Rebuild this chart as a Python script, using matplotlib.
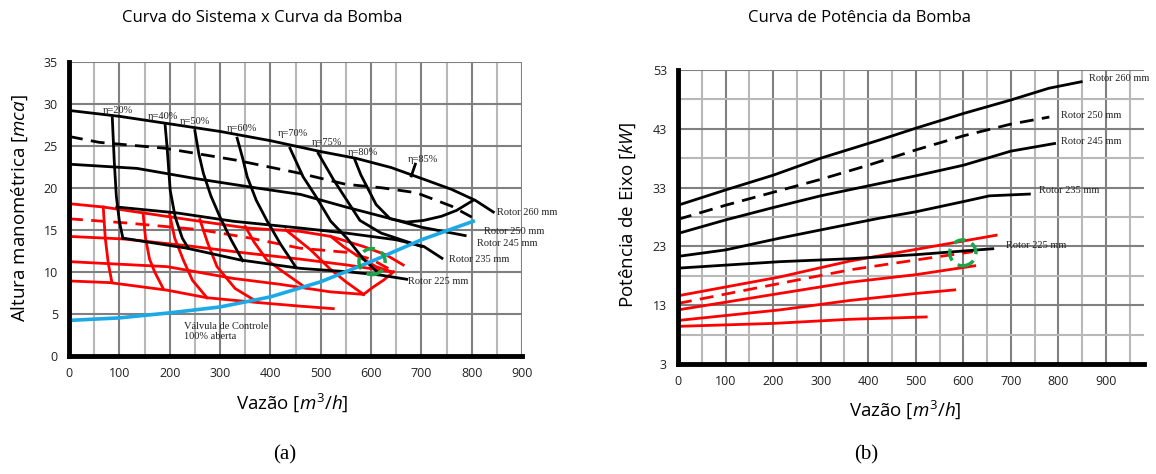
import matplotlib
matplotlib.use('Agg')
import matplotlib.pyplot as plt
from matplotlib.patches import Ellipse
from matplotlib.ticker import FixedLocator

plt.rcParams['font.family'] = ['Open Sans', 'DejaVu Sans']
plt.rcParams['mathtext.fontset'] = 'custom'
plt.rcParams['mathtext.rm'] = 'Open Sans'
plt.rcParams['mathtext.it'] = 'Open Sans:italic'
plt.rcParams['lines.solid_joinstyle'] = 'round'
plt.rcParams['lines.dash_joinstyle'] = 'round'
SERIF = ['Liberation Serif', 'DejaVu Serif']

### --- (a) Curva do sistema x curva da bomba --- ###
# rotor curves H x Q (black)
q_260 = [0, 100, 200, 300, 400, 500, 570, 640, 705, 760, 807, 843]
h_260 = [29.2, 28.5, 27.6, 26.7, 25.6, 24.3, 23.5, 22.4, 21.0, 19.8, 18.5, 17.1]
q_250 = [0, 60, 190, 330, 460, 550, 620, 690, 760, 800]
h_250 = [26.1, 25.4, 24.7, 23.3, 21.7, 20.4, 20.0, 19.4, 17.8, 16.5]
q_245 = [0, 135, 250, 380, 460, 550, 640, 700, 787]
h_245 = [22.8, 22.3, 21.1, 19.9, 19.2, 17.7, 16.3, 15.3, 14.3]
q_235 = [95, 214, 327, 459, 550, 650, 705, 741]
h_235 = [17.7, 17.0, 16.0, 15.2, 14.6, 13.8, 13.0, 11.6]
q_225 = [107, 234, 340, 459, 552, 618, 671]
h_225 = [14.0, 12.8, 11.4, 10.4, 10.0, 9.6, 9.1]

# iso-efficiency curves (black)
eta_labels = ['η=20%', 'η=40%', 'η=50%', 'η=60%', 'η=70%', 'η=75%', 'η=80%', 'η=85%']
eta_lab_q = [97, 186, 250, 343, 444, 512, 583, 704]
eta_lab_h = [29.2, 28.5, 27.9, 27.1, 26.4, 25.4, 24.2, 23.3]
q_e20 = [86, 90, 94, 100, 107]
h_e20 = [28.3, 23.0, 19.0, 16.0, 14.0]
q_e40 = [191, 195, 201, 211, 225, 237]
h_e40 = [27.4, 24.7, 19.7, 16.5, 14.0, 12.8]
q_e50 = [250, 258, 267, 282, 300, 322, 345]
h_e50 = [26.8, 24.0, 21.7, 19.0, 16.5, 13.8, 11.3]
q_e60 = [334, 345, 354, 372, 393, 420, 450]
h_e60 = [25.9, 23.5, 21.3, 18.5, 16.1, 13.3, 10.6]
q_e70 = [439, 465, 490, 520, 552, 585, 612]
h_e70 = [24.7, 21.3, 19.0, 16.0, 14.0, 11.5, 10.0]
q_e75 = [495, 525, 552, 578, 620, 660, 700]
h_e75 = [24.1, 21.0, 18.5, 16.1, 14.6, 13.8, 13.0]
q_e80 = [568, 580, 592, 610, 638, 670, 704, 740, 770, 803]
h_e80 = [23.3, 21.5, 20.1, 18.0, 16.3, 15.9, 16.1, 16.6, 17.3, 18.5]
q_e85 = [680, 688]
h_e85 = [21.4, 22.8]

# reduced rotor curves (red)
q_r1 = [0, 68, 147, 260, 354, 459, 520, 585, 630, 664]
h_r1 = [18.1, 17.7, 17.0, 16.0, 15.2, 14.8, 14.2, 13.0, 12.0, 10.8]
q_rd = [0, 115, 260, 360, 459, 552, 600, 640]
h_rd = [16.3, 15.8, 15.0, 14.0, 12.8, 12.3, 11.5, 10.2]
q_r2 = [0, 107, 234, 340, 459, 552, 640]
h_r2 = [14.2, 13.9, 13.1, 12.3, 11.5, 10.8, 10.0]
q_r3 = [0, 195, 326, 419, 519, 585]
h_r3 = [11.2, 10.6, 9.2, 8.5, 7.6, 7.3]
q_r4 = [0, 81, 195, 274, 380, 459, 525]
h_r4 = [8.9, 8.7, 7.8, 6.9, 6.3, 5.9, 5.6]
# red iso-efficiency
red_iso_q = [[68, 72, 78, 85],
             [147, 152, 160, 170, 187],
             [200, 210, 227, 245, 274],
             [260, 275, 294, 330, 374],
             [350, 368, 393, 425, 470],
             [430, 455, 480, 519, 550, 585],
             [520, 545, 575, 610, 640],
             [585, 605, 625, 645]]
red_iso_h = [[17.7, 14.0, 11.0, 8.8],
             [17.0, 14.0, 11.5, 10.0, 8.0],
             [16.8, 14.0, 11.4, 9.0, 6.9],
             [16.2, 13.5, 10.6, 8.0, 6.4],
             [15.4, 13.5, 11.4, 10.0, 8.1],
             [15.0, 13.8, 12.6, 10.3, 8.8, 7.3],
             [14.2, 13.0, 11.8, 10.6, 10.0],
             [7.3, 8.2, 9.0, 10.0]]

# system curve (blue)
q_sys = [0, 100, 200, 300, 400, 500, 600, 700, 803]
h_sys = [4.2, 4.5, 5.1, 5.8, 7.0, 8.8, 11.2, 13.8, 16.0]

rotor_labels = ['Rotor 260 mm', 'Rotor 250 mm', 'Rotor 245 mm', 'Rotor 235 mm', 'Rotor 225 mm']
rotor_lab_q = [851, 825, 811, 755, 674]
rotor_lab_h = [17.1, 14.8, 13.4, 11.5, 8.8]
op_a = (602, 11.2)

### --- (b) Curva de potencia --- ###
pq_260 = [0, 100, 200, 300, 424, 500, 600, 700, 780, 848]
p_260 = [30.0, 32.6, 35.1, 38.0, 41.1, 43.1, 45.6, 47.9, 49.9, 51.0]
pq_250 = [0, 100, 200, 300, 400, 500, 600, 700, 781]
p_250 = [27.6, 30.0, 32.2, 34.4, 36.8, 39.4, 41.8, 43.8, 45.0]
pq_245 = [0, 100, 200, 300, 424, 500, 600, 700, 792]
p_245 = [25.2, 27.5, 29.6, 31.6, 33.7, 35.0, 36.8, 39.2, 40.5]
pq_235 = [0, 100, 214, 300, 424, 501, 599, 655, 739]
p_235 = [21.3, 22.4, 24.4, 25.8, 27.8, 28.9, 30.6, 31.6, 31.9]
pq_225 = [0, 214, 361, 501, 662]
p_225 = [19.3, 20.4, 20.9, 21.6, 22.6]
pq_r1 = [0, 214, 361, 501, 669]
p_r1 = [14.6, 17.8, 20.5, 22.5, 24.9]
pq_rd = [0, 214, 361, 501, 620]
p_rd = [13.3, 16.7, 19.0, 20.7, 22.1]
pq_r2 = [0, 214, 361, 501, 624]
p_r2 = [12.2, 15.0, 16.9, 18.2, 19.7]
pq_r3 = [0, 214, 361, 501, 582]
p_r3 = [10.4, 12.2, 13.8, 15.0, 15.6]
pq_r4 = [0, 200, 361, 522]
p_r4 = [9.4, 9.9, 10.6, 11.0]
p_labels = ['Rotor 260 mm', 'Rotor 250 mm', 'Rotor 245 mm', 'Rotor 235 mm', 'Rotor 225 mm']
p_lab_q = [865, 805, 805, 760, 690]
p_lab_p = [51.5, 45.3, 40.9, 32.5, 23.2]
op_b = (599, 21.9)

RED = '#ff0000'
BLUE = '#1ca9e6'
GREEN = '#1aa64a'
LW = 2.0
DASH = (0, (5, 3))
CIRC = (0, (3.5, 2))


def style_axes(ax, xmax, xgrid_max, ymin, ymax, ymaj, ymin_grid):
	ax.set_xlim(0, xmax)
	ax.set_ylim(ymin, ymax)
	ax.xaxis.set_major_locator(FixedLocator(range(0, 1000, 100)))
	ax.xaxis.set_minor_locator(FixedLocator(range(50, xgrid_max + 1, 100)))
	ax.yaxis.set_major_locator(FixedLocator(ymaj))
	ax.yaxis.set_minor_locator(FixedLocator(ymin_grid))
	ax.grid(which='major', color='#808080', lw=1.5)
	ax.grid(which='minor', color='#b8b8b8', lw=1.5)
	ax.set_axisbelow(True)
	for s in ['top', 'right']:
		ax.spines[s].set_visible(False)
	ax.spines['left'].set_linewidth(3.5)
	ax.spines['bottom'].set_linewidth(3.5)
	ax.tick_params(which='both', length=0, labelsize=9, pad=8, colors='#222222')


fig = plt.figure(figsize=(11.56, 4.74), dpi=100)

## Left chart
ax = fig.add_axes([0.0597, 0.2496, 0.3919, 0.6202])
style_axes(ax, 900, 850, 0, 35, range(0, 36, 5), [])

for qq, hh in zip(red_iso_q, red_iso_h):
	ax.plot(qq, hh, color=RED, lw=LW)
ax.plot(q_r1, h_r1, color=RED, lw=LW)
ax.plot(q_rd, h_rd, color=RED, lw=LW, ls=DASH)
ax.plot(q_r2, h_r2, color=RED, lw=LW)
ax.plot(q_r3, h_r3, color=RED, lw=LW)
ax.plot(q_r4, h_r4, color=RED, lw=LW)

for qq, hh in [(q_e20, h_e20), (q_e40, h_e40), (q_e50, h_e50), (q_e60, h_e60),
			   (q_e70, h_e70), (q_e75, h_e75), (q_e80, h_e80), (q_e85, h_e85)]:
	ax.plot(qq, hh, color='black', lw=LW)
ax.plot(q_260, h_260, color='black', lw=LW)
ax.plot(q_250, h_250, color='black', lw=LW, ls=DASH)
ax.plot(q_245, h_245, color='black', lw=LW)
ax.plot(q_235, h_235, color='black', lw=LW)
ax.plot(q_225, h_225, color='black', lw=LW)

ax.plot(q_sys, h_sys, color=BLUE, lw=2.6)

ax.add_patch(Ellipse(op_a, 52, 3.1, fill=False, ec=GREEN, lw=2.5, ls=CIRC, zorder=5))

for t, x, y in zip(eta_labels, eta_lab_q, eta_lab_h):
	ax.text(x, y, t, family=SERIF, fontsize=7.5, ha='center', va='center', color='#222222')
for t, x, y in zip(rotor_labels, rotor_lab_q, rotor_lab_h):
	ax.text(x, y, t, family=SERIF, fontsize=7.5, ha='left', va='center', color='#222222')
ax.text(229, 4.0, 'Válvula de Controle\n100% aberta', family=SERIF, fontsize=7.5,
		ha='left', va='top', linespacing=1.15, color='#222222')

## Right chart
bx = fig.add_axes([0.5865, 0.2321, 0.4031, 0.6202])
style_axes(bx, 980, 950, 3, 53, range(3, 54, 10), range(8, 54, 10))

bx.plot(pq_r1, p_r1, color=RED, lw=LW)
bx.plot(pq_rd, p_rd, color=RED, lw=LW, ls=DASH)
bx.plot(pq_r2, p_r2, color=RED, lw=LW)
bx.plot(pq_r3, p_r3, color=RED, lw=LW)
bx.plot(pq_r4, p_r4, color=RED, lw=LW)
bx.plot(pq_260, p_260, color='black', lw=LW)
bx.plot(pq_250, p_250, color='black', lw=LW, ls=DASH)
bx.plot(pq_245, p_245, color='black', lw=LW)
bx.plot(pq_235, p_235, color='black', lw=LW)
bx.plot(pq_225, p_225, color='black', lw=LW)
bx.add_patch(Ellipse(op_b, 55, 4.4, fill=False, ec=GREEN, lw=2.5, ls=CIRC, zorder=5))
for t, x, y in zip(p_labels, p_lab_q, p_lab_p):
	bx.text(x, y, t, family=SERIF, fontsize=7.5, ha='left', va='center', color='#222222')

## Titles and labels
fig.text(262 / 1156, 1 - 18 / 474, 'Curva do Sistema x Curva da Bomba', ha='center', va='center', fontsize=12)
fig.text(860 / 1156, 1 - 18 / 474, 'Curva de Potência da Bomba', ha='center', va='center', fontsize=12)
fig.text(20 / 1156, 1 - 208 / 474, 'Altura manométrica [$mca$]', rotation=90, ha='center', va='center', fontsize=13.5)
fig.text(628 / 1156, 1 - 215 / 474, 'Potência de Eixo [$kW$]', rotation=90, ha='center', va='center', fontsize=13.5)
fig.text(292 / 1156, 1 - 403 / 474, 'Vazão [$m^3/h$]', ha='center', va='center', fontsize=13.5)
fig.text(905 / 1156, 1 - 410 / 474, 'Vazão [$m^3/h$]', ha='center', va='center', fontsize=13.5)
fig.text(285 / 1156, 1 - 455 / 474, '(a)', family=SERIF, ha='center', va='center', fontsize=15)
fig.text(866 / 1156, 1 - 455 / 474, '(b)', family=SERIF, ha='center', va='center', fontsize=15)

fig.savefig('out.png', dpi=100)
